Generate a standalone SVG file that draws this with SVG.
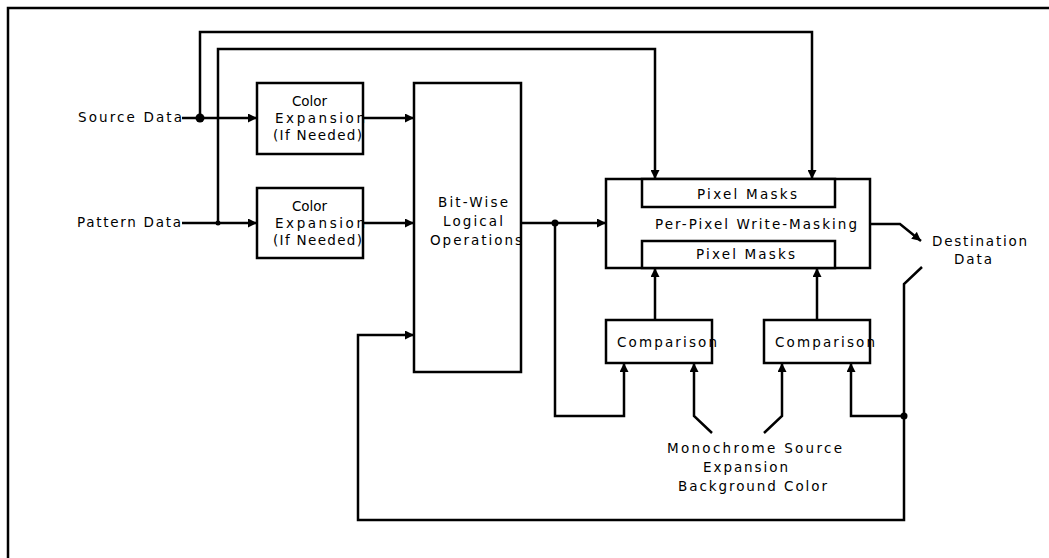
<svg xmlns="http://www.w3.org/2000/svg" width="1049" height="558" viewBox="0 0 1049 558">
<style>
.box{fill:#fff;stroke:#000;stroke-width:2.5}
.w{fill:none;stroke:#000;stroke-width:2.5}
.a{marker-end:url(#ah)}
text{font-family:"DejaVu Sans","Liberation Sans",Arial,sans-serif;font-size:13.5px;fill:#000}
</style>
<defs>
<marker id="ah" markerUnits="userSpaceOnUse" markerWidth="9" markerHeight="9" refX="8" refY="4" orient="auto" viewBox="0 0 8 8">
<path d="M0,0 L8,4 L0,8 z" fill="#000"/>
</marker>
</defs>
<rect width="1049" height="558" fill="#fff"/>
<path class="w" d="M8,558 V8 H1049"/>

<g id="labels">
<text x="78" y="122" textLength="104" lengthAdjust="spacing">Source Data</text>
<text x="77" y="227" textLength="104" lengthAdjust="spacing">Pattern Data</text>
</g>

<g id="color-expansion-1">
<rect class="box" x="257" y="83" width="106" height="71"/>
<text x="292" y="106" textLength="35" lengthAdjust="spacing">Color</text>
<text x="275" y="123" textLength="90" lengthAdjust="spacing">Expansion</text>
<text x="273" y="140" textLength="89" lengthAdjust="spacing">(If Needed)</text>
</g>

<g id="color-expansion-2">
<rect class="box" x="257" y="188" width="106" height="70"/>
<text x="292" y="211" textLength="35" lengthAdjust="spacing">Color</text>
<text x="275" y="228" textLength="90" lengthAdjust="spacing">Expansion</text>
<text x="273" y="245" textLength="89" lengthAdjust="spacing">(If Needed)</text>
</g>

<g id="bitwise">
<rect class="box" x="414" y="83" width="107" height="289"/>
<text x="438" y="207" textLength="70" lengthAdjust="spacing">Bit-Wise</text>
<text x="443" y="226" textLength="60" lengthAdjust="spacing">Logical</text>
<text x="430" y="245" textLength="92" lengthAdjust="spacing">Operations</text>
</g>

<g id="write-masking">
<rect class="box" x="606" y="179" width="264" height="89"/>
<rect class="box" x="642" y="179" width="193" height="28"/>
<rect class="box" x="642" y="241" width="193" height="27"/>
<text x="697" y="199" textLength="100" lengthAdjust="spacing">Pixel Masks</text>
<text x="655" y="229" textLength="202" lengthAdjust="spacing">Per-Pixel Write-Masking</text>
<text x="696" y="259" textLength="99" lengthAdjust="spacing">Pixel Masks</text>
</g>

<g id="destination">
<text x="932" y="246" textLength="95" lengthAdjust="spacing">Destination</text>
<text x="954" y="264" textLength="38" lengthAdjust="spacing">Data</text>
</g>

<g id="comparison-1">
<rect class="box" x="606" y="320" width="106" height="43"/>
<text x="617" y="347" textLength="100" lengthAdjust="spacing">Comparison</text>
</g>

<g id="comparison-2">
<rect class="box" x="764" y="320" width="106" height="43"/>
<text x="775" y="347" textLength="100" lengthAdjust="spacing">Comparison</text>
</g>

<g id="mono-label">
<text x="667" y="453" textLength="175" lengthAdjust="spacing">Monochrome Source</text>
<text x="703" y="472" textLength="85" lengthAdjust="spacing">Expansion</text>
<text x="678" y="491" textLength="149" lengthAdjust="spacing">Background Color</text>
</g>

<g id="connectors">
<path class="w a" d="M182,118 H257"/>
<path class="w a" d="M182,223 H257"/>
<path class="w a" d="M200,118 V32 H812 V179"/>
<path class="w a" d="M218,223 V49 H655 V179"/>
<path class="w a" d="M363,118 H414"/>
<path class="w a" d="M363,223 H414"/>
<path class="w a" d="M521,223 H606"/>
<path class="w a" d="M555,223 V416 H624 V363"/>
<path class="w a" d="M655,320 V268"/>
<path class="w a" d="M817,320 V268"/>
<path class="w a" d="M712,433 L694,416 V363"/>
<path class="w a" d="M764,433 L782,416 V363"/>
<path class="w a" d="M904,416 H851 V363"/>
<path class="w a" d="M922,267 L904,284 V520 H358 V335 H414"/>
<path class="w a" d="M870,224 H900 L921,241"/>
<circle cx="200" cy="118" r="4.5" fill="#000"/>
<circle cx="218" cy="223" r="2.5" fill="#000"/>
<circle cx="555" cy="223" r="3.5" fill="#000"/>
<circle cx="904" cy="416" r="3.5" fill="#000"/>
</g>
</svg>
